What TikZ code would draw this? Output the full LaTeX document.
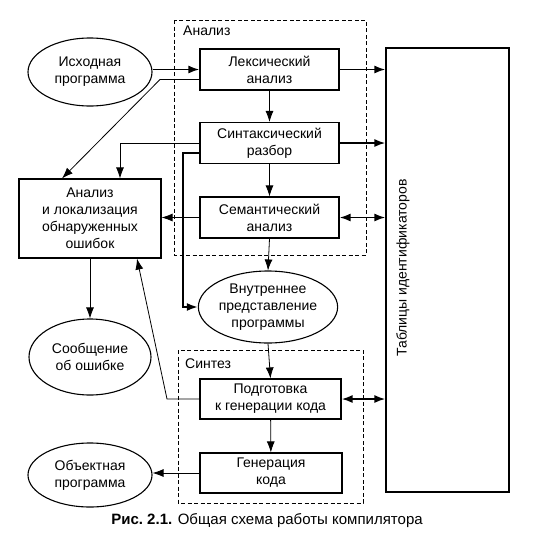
\documentclass[tikz,border=0pt]{standalone}
\usepackage{fontspec}
\setmainfont{Liberation Sans}
\usetikzlibrary{arrows.meta,shapes.geometric,calc}
\tikzset{
  txt/.style={font=\fontsize{14}{17}\selectfont, align=center, inner sep=0pt},
  blk/.style={txt, draw, line width=1.1pt, minimum width=139pt, minimum height=41pt},
  oval/.style={txt, draw, ellipse, line width=1.1pt},
  thin/.style={line width=0.8pt, -{Latex[length=11pt,width=8pt]}},
  thick/.style={line width=1.8pt, -{Latex[length=11pt,width=8pt]}},
  both/.style={line width=1.8pt, {Latex[length=11pt,width=8pt]}-{Latex[length=11pt,width=8pt]}},
  dbox/.style={draw, line width=0.9pt, dash pattern=on 4pt off 2.5pt},
}
\begin{document}
\begin{tikzpicture}[x=1pt,y=-1pt]
\useasboundingbox (0,0) rectangle (542,542);
% dashed groups
\draw[dbox] (174,20) rectangle (366,255);
\draw[dbox] (178,350) rectangle (363,503);
\node[txt, anchor=west] (lanal) at (183,31) {Анализ};
\node[txt, anchor=west] (lsynt) at (185,364) {Синтез};
% blocks
\node[blk] (lex) at (269.5,69.5) {Лексический\\анализ};
\node[blk] (syn) at (269.5,143) {Синтаксический\\разбор};
\node[blk] (sem) at (269.5,217.5) {Семантический\\анализ};
\node[blk, minimum width=141pt, minimum height=40pt] (prep) at (270.5,399) {Подготовка\\к генерации кода};
\node[blk, minimum width=142pt, minimum height=40pt] (gen) at (271,473) {Генерация\\кода};
\node[blk, minimum width=142pt, minimum height=79pt] (err) at (90,218.5) {Анализ\\и локализация\\обнаруженных\\ошибок};
\node[blk, minimum width=123pt, minimum height=444pt] (tab) at (447.5,270) {};
\node[txt, rotate=90] (tabtxt) at (403,268) {Таблицы идентификаторов};
% ellipses
\node[oval, minimum width=124pt, minimum height=68pt] (src) at (90,72) {Исходная\\программа};
\node[oval, minimum width=124pt, minimum height=72pt] (int) at (268,307) {Внутреннее\\представление\\программы};
\node[oval, minimum width=122pt, minimum height=76pt] (msg) at (90,357) {Сообщение\\об ошибке};
\node[oval, minimum width=124pt, minimum height=64pt] (obj) at (90,475) {Объектная\\программа};
% caption
\node[txt, font=\fontsize{15}{18}\selectfont] (cap) at (267,521) {\textbf{Рис.\ 2.1.} Общая схема работы компилятора};
% bend coordinates
\coordinate (b1) at (160,79.5);
\coordinate (b2) at (183,153);
\coordinate (b3) at (167,399);
% connectors
\draw[thick] (lex.west -| src.east) -- (lex.west);
\draw[thin] ([yshift=-10pt]lex.west) -- (b1) -- ([xshift=-28pt]err.north);
\draw[thick] (lex.east) -- (lex.east -| tab.west);
\draw[thin] (lex) -- (syn);
\draw[thin] (syn.west) -| ([xshift=30pt]err.north);
\draw[thick] ([yshift=-10pt]syn.west) -- (b2) |- (int.west);
\draw[thick] (syn.east) -- (syn.east -| tab.west);
\draw[thin] (syn) -- (sem);
\draw[thin] (sem.west) -- (sem.west -| err.east);
\draw[both] (sem.east) -- (sem.east -| tab.west);
\draw[thin] (sem.south) -- (int.north);
\draw[thin] (err.south) -- (msg.north);
\draw[thin] (prep.west) -- (b3) -- ([xshift=47pt]err.south);
\draw[thin] (int.south) -- (prep.north);
\draw[both] (prep.east) -- (prep.east -| tab.west);
\draw[thin] (prep) -- (gen);
\draw[thin] (gen.west) -- (gen.west -| obj.east);
\end{tikzpicture}
\end{document}
